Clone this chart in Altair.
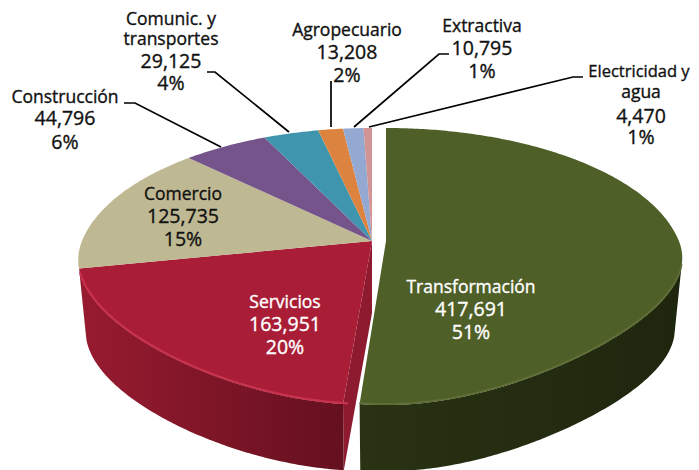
import math
import altair as alt

categories = ["Transformación", "Servicios", "Comercio", "Construcción",
              "Comunic. y transportes", "Agropecuario", "Extractiva", "Electricidad y agua"]
values = [417691, 163951, 125735, 44796, 29125, 13208, 10795, 4470]
percents = ["51%", "20%", "15%", "6%", "4%", "2%", "1%", "1%"]
value_labels = ["417,691", "163,951", "125,735", "44,796", "29,125", "13,208", "10,795", "4,470"]
top_colors = ["#4f5f28", "#a91d37", "#bfb993", "#74548b", "#3f94ae", "#dc833f", "#93a9d1", "#d19393"]

# layout of the pseudo-3D projection (pixels in the page)
M = 8
AX, AY = 372.0, 241.0
EXPLODE = 14.0
A, B, K = 290.0, 133.8, 0.184
WALL_SX, WALL_SY, WALL_DY = 0.975, 0.965, 72.0

total = sum(values)
cum = [0.0]
for v in values:
    cum.append(cum[-1] + v / total * 360.0)


def pt(theta, ox=AX, sx=1.0, sy=1.0, dy=0.0, c=0.18):
    t = math.radians(theta)
    X, Y = math.sin(t), math.cos(t)
    d = 1 + K * Y
    front = 1 - c * Y * Y if Y < 0 else 1.0
    return [ox + sx * front * A * X / d - M, AY + dy - sy * B * Y / d - M]


def arc(a0, a1, **kw):
    n = max(2, int(abs(a1 - a0) * 1.5))
    return [pt(a0 + (a1 - a0) * i / n, **kw) for i in range(n + 1)]


def feature(coords, color="none", kind="Polygon"):
    geom = {"type": kind, "coordinates": [coords] if kind == "Polygon" else coords}
    return {"type": "Feature", "geometry": geom, "properties": {"color": color}}


GREEN = dict(ox=AX + EXPLODE, c=0.26)


def wedge(i):
    if i == 0:
        ring = [[GREEN["ox"] - M, AY - M]] + arc(cum[0], cum[1], sx=1.01, **GREEN) + [[GREEN["ox"] - M, AY - M]]
    else:
        ring = [[AX - M, AY - M]] + arc(cum[i], cum[i + 1]) + [[AX - M, AY - M]]
    return feature(ring, top_colors[i])


def wall(a0, a1, top_sx=1.0, **kw):
    ring = arc(a0, a1, sx=top_sx, **kw) + arc(a1, a0, sx=WALL_SX * top_sx, sy=WALL_SY, dy=WALL_DY, **kw)
    ring.append(ring[0])
    return feature(ring)


W, H = 683, 462


def shape(features, **mark):
    return alt.Chart(alt.Data(values=features)).mark_geoshape(clip=True, **mark).project(
        type="identity", scale=1, translate=[0, 0])


def grad(c0, c1):
    return alt.Gradient(gradient="linear", x1=0, x2=1, y1=0, y2=0,
                        stops=[alt.GradientStop(offset=0, color=c0), alt.GradientStop(offset=1, color=c1)])


green_end = cum[1]
red_end = cum[2]
layers = []
# tan sliver of wall at far left
layers.append(shape([wall(red_end, red_end + 4)], fill="#c9c4a2", stroke=None))
# red cut face
face = [[AX - M, AY - M], pt(green_end), pt(green_end, sx=WALL_SX, sy=WALL_SY, dy=WALL_DY),
        [AX - M, AY + WALL_DY - M], [AX - M, AY - M]]
layers.append(shape([feature(face)], fill="#8d1a2e", stroke=None))
layers.append(shape([wall(green_end, red_end)], fill=grad("#981b30", "#64101f"), stroke=None))
layers.append(shape([wall(100, green_end, top_sx=1.01, **GREEN)], fill=grad("#2a3214", "#1e260e"), stroke=None))
# top faces
tops = alt.Chart(alt.Data(values=[wedge(i) for i in range(len(values))])).mark_geoshape(
    clip=True, strokeWidth=0).encode(fill=alt.Fill("properties.color:N", scale=None)).project(
    type="identity", scale=1, translate=[0, 0])
layers.append(tops)
# bevel highlights along the front rim
layers.append(shape([feature(arc(green_end - 1, red_end - 2, dy=-1.0), kind="LineString")],
                    filled=False, stroke="#c7324e", strokeWidth=2.2))
layers.append(shape([feature(arc(100, green_end, sx=1.01, dy=-1.0, **GREEN), kind="LineString")],
                    filled=False, stroke="#5e6e36", strokeWidth=1.8))

# leader lines (label layout, page pixels)
leaders = {
    "Construcción": [(124, 103), (135, 103), (221, 147)],
    "Comunic. y transportes": [(207, 72), (215, 72), (289, 132)],
    "Agropecuario": [(331, 81), (331, 127)],
    "Extractiva": [(449, 54), (439, 54), (354, 127)],
    "Electricidad y agua": [(583, 77), (573, 77), (369, 127)],
}
rows = []
for name, pts in leaders.items():
    for k, (x, y) in enumerate(pts):
        rows.append({"name": name, "k": k, "x": x - M, "y": y - M})
layers.append(alt.Chart(alt.Data(values=rows)).mark_line(color="#000000", strokeWidth=1.7, clip=True).encode(
    x=alt.X("x:Q", scale=None), y=alt.Y("y:Q", scale=None), detail="name:N", order="k:Q"))

# text blocks: centre x, y of each line
blocks = [
    (0, ["Transformación"], 471, [288, 310, 333], "#ffffff"),
    (1, ["Servicios"], 285, [303, 325, 348], "#ffffff"),
    (2, ["Comercio"], 183, [195, 217, 240], "#111111"),
    (3, ["Construcción"], 65, [98, 119, 143], "#111111"),
    (4, ["Comunic. y", "transportes"], 171, [20, 40, 62, 84], "#111111"),
    (5, ["Agropecuario"], 347, [31, 53, 76], "#111111"),
    (6, ["Extractiva"], 482, [27, 49, 72], "#111111"),
    (7, ["Electricidad y", "agua"], 641, [72, 93, 117, 138], "#111111"),
]
text_rows = []
for i, names, cx, ys, col in blocks:
    lines = names + [value_labels[i], percents[i]]
    for line, y in zip(lines, ys):
        is_num = line[0].isdigit()
        size = 19.5 if is_num else 17.5
        x = cx
        if line == "Electricidad y":  # right page margin leaves less room than the reference had
            size, x = 16.5, 639
        text_rows.append({"t": line, "x": x - M, "y": y - M, "c": col, "s": size})
layers.append(alt.Chart(alt.Data(values=text_rows)).mark_text(
    font="Open Sans", baseline="middle", align="center", strokeWidth=0.35).encode(
    x=alt.X("x:Q", scale=None), y=alt.Y("y:Q", scale=None), text="t:N",
    color=alt.Color("c:N", scale=None), stroke=alt.Stroke("c:N", scale=None),
    size=alt.Size("s:Q", scale=None)))

chart = alt.layer(*layers).properties(
    width=W, height=H, padding=0, autosize=alt.AutoSizeParams(type="none"), background="#ffffff"
).configure_view(stroke=None)

chart.save("out.html", embed_options={"renderer": "svg", "actions": False})
